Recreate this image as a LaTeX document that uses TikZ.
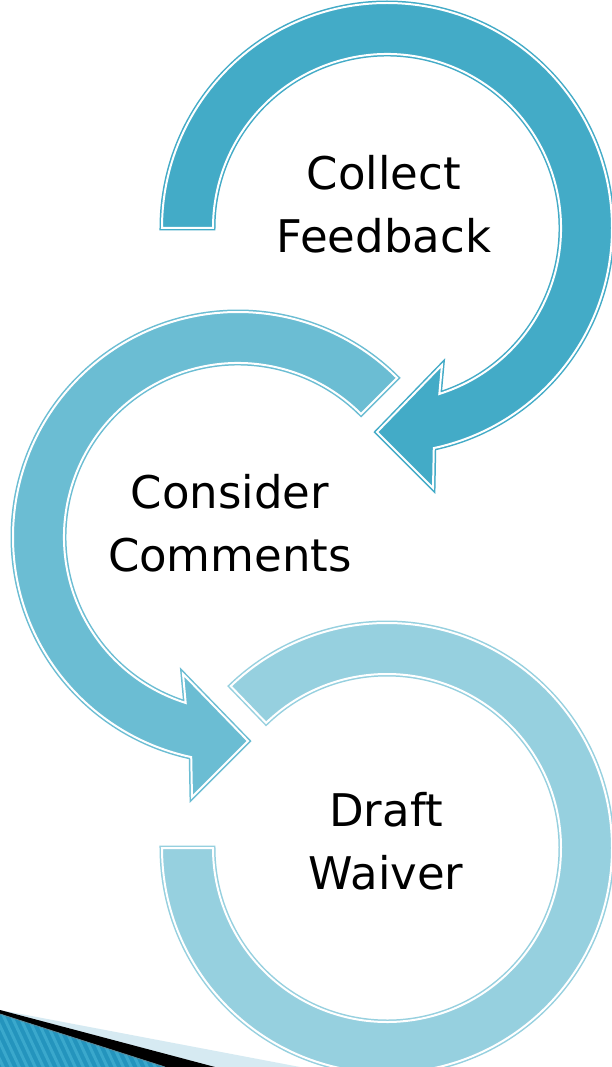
\documentclass[tikz,border=0pt]{standalone}
\usepackage{fontspec}
\setmainfont{DejaVu Sans}
\begin{document}
\begin{tikzpicture}[x=1pt, y=1pt, line join=miter,
  ring/.style={fill=#1, draw=#1, line width=1.5pt, double=white, double distance=2pt},
  steplabel/.style={align=center, inner sep=0pt, font=\fontsize{45}{63}\selectfont}]
\definecolor{ringA}{RGB}{67,171,199}
\definecolor{ringB}{RGB}{107,189,211}
\definecolor{ringC}{RGB}{150,208,223}
\definecolor{cornerB}{RGB}{36,148,189}
\definecolor{stripeB}{RGB}{58,168,204}
\definecolor{cornerL}{RGB}{214,234,242}
% ---- page ----
\useasboundingbox (0,0) rectangle (612,-1067);
\clip (0,0) rectangle (612,-1067);
\fill[white] (0,0) rectangle (612,-1067);
% ---- corner decoration ----
\fill[cornerL] (0,-1010) -- (300,-1067) -- (0,-1067) -- cycle;
\fill[black] (0,-1010) -- (215,-1067) -- (0,-1067) -- cycle;
\begin{scope}
  \clip (0,-1014) -- (165,-1067) -- (0,-1067) -- cycle;
  \fill[cornerB] (0,-1000) rectangle (170,-1067);
  \foreach \s in {-60,-52,...,200}
    \draw[stripeB, line width=3pt] (\s,-1000) -- ++(35,-75);
\end{scope}
\draw[gray!60!cornerB, line width=0.8pt] (0,-1014) -- (165,-1067);
% ---- third ring: draft waiver ----
\begin{scope}[shift={(387,-848)}]
  \path[ring=ringC] (180:225) arc[start angle=180, end angle=494, radius=225]
    -- (494:174) arc[start angle=494, end angle=180, radius=174] -- cycle;
\end{scope}
% ---- second ring: consider comments ----
\begin{scope}[shift={(238,-537)}]
  \path[ring=ringB] (45:225) arc[start angle=45, end angle=258, radius=225]
    -- (-46,-260) -- (10,-204) -- (-55,-137)
    -- (252.5:174) arc[start angle=252.5, end angle=45, radius=174] -- cycle;
\end{scope}
% ---- first ring: collect feedback ----
\begin{scope}[shift={(387,-228)}]
  \path[ring=ringA] (180:225) arc[start angle=180, end angle=-78, radius=225]
    -- (46,-260) -- (-10,-204) -- (55,-137)
    -- (-72.5:174) arc[start angle=-72.5, end angle=180, radius=174] -- cycle;
\end{scope}
% ---- labels ----
\node[steplabel] (collect) at (384,-204) {Collect\\Feedback};
\node[steplabel] (consider) at (230,-523) {Consider\\Comments};
\node[steplabel] (draft) at (386,-841) {Draft\\Waiver};
\end{tikzpicture}
\end{document}
